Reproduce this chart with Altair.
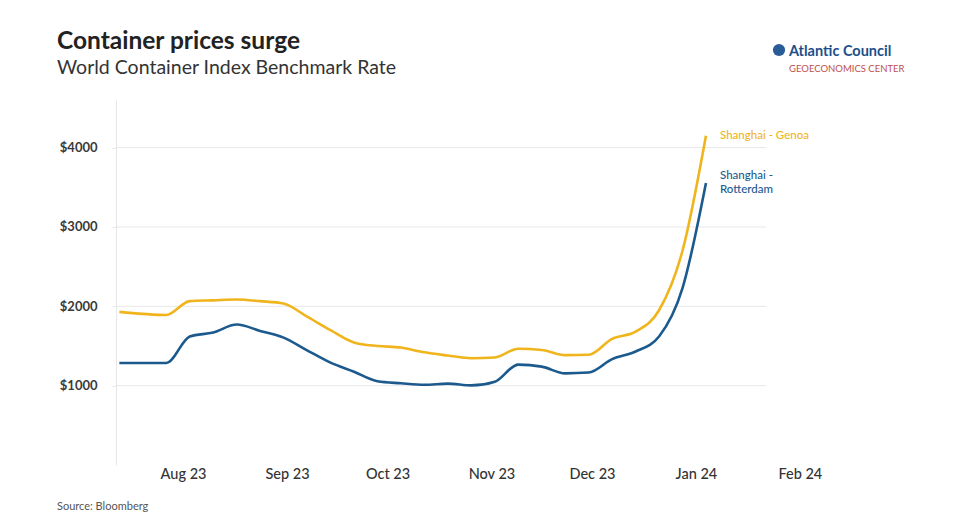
import altair as alt
import pandas as pd

# ---- data ----
dates = [
    "2023-07-13", "2023-07-20", "2023-07-27", "2023-08-03", "2023-08-10",
    "2023-08-17", "2023-08-24", "2023-08-31", "2023-09-07", "2023-09-14",
    "2023-09-21", "2023-09-28", "2023-10-05", "2023-10-12", "2023-10-19",
    "2023-10-26", "2023-11-02", "2023-11-09", "2023-11-16", "2023-11-23",
    "2023-11-30", "2023-12-07", "2023-12-14", "2023-12-21", "2023-12-28",
    "2024-01-04",
]
genoa = [1930, 1905, 1890, 2065, 2075, 2085, 2065, 2035, 1870, 1700,
         1545, 1500, 1480, 1420, 1380, 1345, 1355, 1465, 1450, 1385,
         1390, 1590, 1680, 1950, 2700, 4150]
rotterdam = [1286, 1286, 1286, 1620, 1670, 1770, 1690, 1605, 1445, 1290,
             1175, 1055, 1030, 1012, 1025, 1003, 1050, 1265, 1240, 1155,
             1165, 1335, 1430, 1620, 2230, 3555]
series_names = ["Shanghai - Genoa", "Shanghai - Rotterdam"]
genoa_label_lines = ["Shanghai - Genoa"]
rotterdam_label_lines = ["Shanghai -", "Rotterdam"]
y_ticks = [1000, 2000, 3000, 4000]
x_tick_months = [(2023, 8), (2023, 9), (2023, 10), (2023, 11), (2023, 12),
                 (2024, 1), (2024, 2)]

TITLE = "Container prices surge"
SUBTITLE = "World Container Index Benchmark Rate"
SOURCE = "Source: Bloomberg"
ORG = "Atlantic Council"
CENTER = "GEOECONOMICS CENTER"

YELLOW = "#F0B41C"
BLUE = "#1C5A8E"
FONT = "Lato"

n = len(dates)
df = pd.DataFrame({
    "date": dates * 2,
    "value": genoa + rotterdam,
    "series": [series_names[0]] * n + [series_names[1]] * n,
})

LINE_H = 14
label_rows = []
for name, last, lines_txt in [(series_names[0], genoa[-1], genoa_label_lines),
                              (series_names[1], rotterdam[-1], rotterdam_label_lines)]:
    k = len(lines_txt)
    for i, t in enumerate(lines_txt):
        label_rows.append({"date": dates[-1], "value": last, "series": name,
                           "label": t, "line": i, "nlines": k})
label_df = pd.DataFrame(label_rows)

grid_df = pd.DataFrame({
    "value": y_ticks,
    "start": ["2023-07-12"] * len(y_ticks),
    "end": ["2024-01-22"] * len(y_ticks),
})

x_scale = alt.Scale(domain=[alt.DateTime(year=2023, month=7, date=12),
                            alt.DateTime(year=2024, month=2, date=10)])
y_scale = alt.Scale(domain=[0, 4600], nice=False)
x_axis = alt.Axis(
    values=[alt.DateTime(year=y, month=m, date=1) for y, m in x_tick_months],
    format="%b %y", title=None, domain=False, ticks=False, grid=False,
    labelFontSize=14.5, labelColor="#333333", labelFont=FONT, labelPadding=2,
    labelFontWeight=500,
)
y_axis = alt.Axis(
    values=y_ticks, format="$d", title=None, grid=False,
    domain=True, domainColor="#e6e6e6", domainWidth=1,
    ticks=True, tickSize=4, tickColor="#e6e6e6",
    labelFontSize=13, labelColor="#3a3a3a", labelFont=FONT,
    labelFontWeight="bold", labelPadding=15,
)
color_scale = alt.Scale(domain=series_names, range=[YELLOW, BLUE])

grid = alt.Chart(grid_df).mark_rule(color="#e8e8e8", strokeWidth=1).encode(
    x=alt.X("start:T", scale=x_scale, axis=x_axis),
    x2="end:T",
    y=alt.Y("value:Q", scale=y_scale, axis=y_axis),
)

lines = alt.Chart(df).mark_line(interpolate="monotone", strokeWidth=2.6).encode(
    x=alt.X("date:T", scale=x_scale, axis=x_axis),
    y=alt.Y("value:Q", scale=y_scale, axis=y_axis),
    color=alt.Color("series:N", scale=color_scale, legend=None),
    detail="series:N",
)


def label_layer(nlines, line):
    off = (line - (nlines - 1) / 2) * LINE_H
    return alt.Chart(label_df).transform_filter(
        (alt.datum.nlines == nlines) & (alt.datum.line == line)
    ).mark_text(
        align="left", baseline="middle", dx=14, dy=off, fontSize=11.5,
        font=FONT, fontWeight=500,
    ).encode(
        x=alt.X("date:T", scale=x_scale, axis=x_axis),
        y=alt.Y("value:Q", scale=y_scale, axis=y_axis),
        text="label:N",
        color=alt.Color("series:N", scale=color_scale, legend=None),
    )


label_layers = [label_layer(1, 0), label_layer(2, 0), label_layer(2, 1)]


def text_layer(txt, x, y, size, color, weight="normal"):
    return alt.Chart(pd.DataFrame({"t": [txt]})).mark_text(
        align="left", baseline="alphabetic", fontSize=size, font=FONT,
        color=color, fontWeight=weight,
    ).encode(x=alt.value(x), y=alt.value(y), text="t:N")


title = text_layer(TITLE, -59, -51, 24.5, "#222222", "bold")
subtitle = text_layer(SUBTITLE, -59, -26, 19.5, "#333333")
source = text_layer(SOURCE, -59, 410, 11, "#555555")
org = text_layer(ORG, 673, -44, 14.5, "#1C4F8A", "bold")
center = text_layer(CENTER, 673, -28, 9.5, "#C0504D")
globe = alt.Chart(pd.DataFrame({"g": [1]})).mark_point(
    filled=True, shape="circle", size=150, color="#2A5C98", opacity=1,
).encode(x=alt.value(663), y=alt.value(-50))

chart = alt.layer(
    grid, lines, *label_layers, title, subtitle, source, org, center, globe
).properties(
    width=714, height=365,
    padding={"left": 108, "top": 92, "right": 127, "bottom": 53},
    autosize=alt.AutoSizeParams(type="none"),
).configure(
    font=FONT, background="white", view=alt.ViewConfig(stroke=None)
)

chart.save("out.html", embed_options={"renderer": "svg", "actions": False})
